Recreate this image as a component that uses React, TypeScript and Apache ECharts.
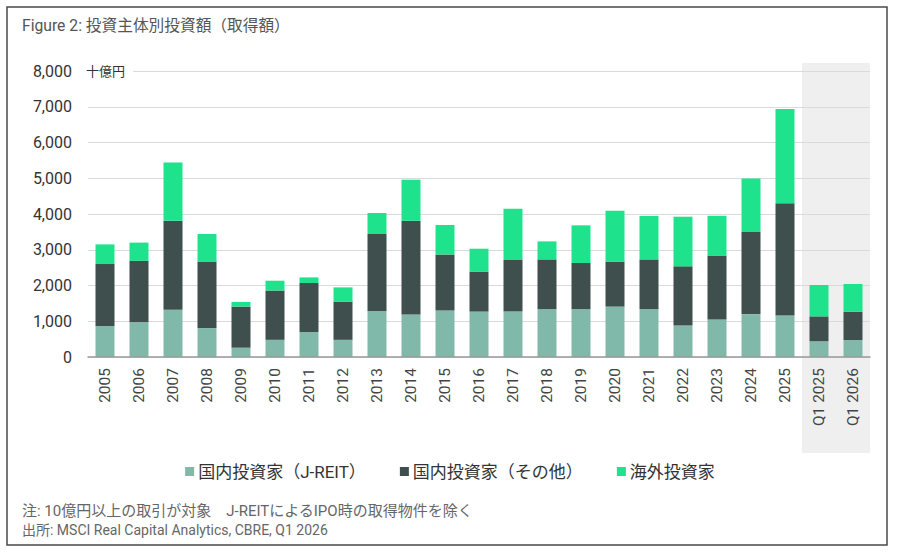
import React, { useEffect, useRef } from "react";
import * as echarts from "echarts";

const categories = [
  "2005", "2006", "2007", "2008", "2009", "2010", "2011", "2012", "2013", "2014",
  "2015", "2016", "2017", "2018", "2019", "2020", "2021", "2022", "2023", "2024",
  "2025", "Q1 2025", "Q1 2026",
];
const seriesNames = ["国内投資家（J-REIT）", "国内投資家（その他）", "海外投資家"];
const jreit = [870, 970, 1320, 810, 260, 480, 700, 480, 1290, 1190, 1300, 1270, 1270, 1340, 1340, 1410, 1340, 880, 1050, 1200, 1160, 440, 475];
const domesticOther = [1730, 1720, 2490, 1860, 1150, 1380, 1370, 1070, 2150, 2620, 1570, 1120, 1440, 1390, 1290, 1260, 1390, 1655, 1790, 2300, 3140, 696, 792];
const foreign = [550, 510, 1630, 770, 130, 274, 157, 397, 588, 1150, 822, 639, 1438, 504, 1053, 1422, 1217, 1389, 1110, 1496, 2637, 878, 775];
const yMin = 0;
const yMax = 8000;
const yStep = 1000;
const shadedFrom = "Q1 2025";
const shadedTo = "Q1 2026";
const titleText = "Figure 2: 投資主体別投資額（取得額）";
const unitText = "十億円";
const noteText = "注: 10億円以上の取引が対象　J-REITによるIPO時の取得物件を除く";
const sourceText = "出所: MSCI Real Capital Analytics, CBRE, Q1 2026";

const colors = ["#80b8a9", "#3e4f4d", "#1ee38c"];
const FONT = 'Roboto, "Noto Sans CJK JP", "Noto Sans", sans-serif';

export default function App() {
  const ref = useRef<HTMLDivElement>(null);
  useEffect(() => {
    if (!ref.current) return;
    const chart = echarts.init(ref.current, undefined, { renderer: "svg" });
    const data = [jreit, domesticOther, foreign];
    chart.setOption({
      animation: false,
      backgroundColor: "#ffffff",
      textStyle: { fontFamily: FONT },
      grid: { left: 88, right: 30, top: 71, bottom: 198, containLabel: false },
      legend: {
        top: 458,
        left: "center",
        icon: "rect",
        itemWidth: 9,
        itemHeight: 9,
        itemGap: 34,
        textStyle: { fontSize: 17, color: "#333", fontFamily: FONT, padding: [0, 0, 0, -1] },
        data: seriesNames,
      },
      xAxis: {
        type: "category",
        data: categories,
        axisLine: { lineStyle: { color: "#9a9a9a", width: 1.5 } },
        axisTick: { show: false },
        axisLabel: { rotate: 90, fontSize: 15.5, color: "#444", margin: 11, fontFamily: FONT },
        z: 3,
      },
      yAxis: {
        type: "value",
        min: yMin,
        max: yMax,
        interval: yStep,
        axisLine: { show: false },
        axisTick: { show: false },
        axisLabel: {
          fontSize: 16,
          color: "#333",
          margin: 16,
          fontFamily: FONT,
          formatter: (v: number) => v.toLocaleString("en-US"),
        },
        splitLine: { lineStyle: { color: "#dadada", width: 1 } },
      },
      series: seriesNames.map((name, i) => ({
        name,
        type: "bar",
        stack: "total",
        barWidth: 19,
        itemStyle: { color: colors[i] },
        data: data[i],
        z: 2,
      })),
      graphic: [
        {
          id: "frame",
          type: "rect",
          shape: { x: 7, y: 7, width: 880, height: 538 },
          style: { fill: "none", stroke: "#4a4a4a", lineWidth: 1.5 },
          z: 100,
        },
        {
          id: "title",
          type: "text",
          x: 22,
          y: 18,
          style: { text: titleText, fontSize: 15.7, fill: "#555", fontFamily: FONT },
        },
        {
          id: "note",
          type: "text",
          x: 22,
          y: 503,
          style: { text: noteText, fontSize: 15, fill: "#666", fontFamily: FONT },
        },
        {
          id: "source",
          type: "text",
          x: 22,
          y: 523,
          style: { text: sourceText, fontSize: 14, fill: "#666", fontFamily: FONT },
        },
      ],
    });

    const cFrom = chart.convertToPixel({ xAxisIndex: 0 }, shadedFrom) as number;
    const cTo = chart.convertToPixel({ xAxisIndex: 0 }, shadedTo) as number;
    const band = cTo - cFrom;
    const yTop = chart.convertToPixel({ yAxisIndex: 0 }, yMax) as number;
    const yBase = chart.convertToPixel({ yAxisIndex: 0 }, yMin) as number;
    chart.setOption({
      graphic: [
        {
          id: "shade",
          type: "rect",
          shape: { x: cFrom - band / 2, y: yTop - 8, width: band * 2, height: yBase - yTop + 8 + 96 },
          style: { fill: "#efefef" },
          z: -10,
          silent: true,
        },
        {
          id: "unit",
          type: "text",
          x: 84,
          y: yTop,
          style: {
            text: unitText,
            fontSize: 13,
            fill: "#333",
            fontFamily: FONT,
            verticalAlign: "middle",
            backgroundColor: "#ffffff",
            padding: [2, 8, 2, 2],
          },
          z: 50,
        },
      ],
    });
    return () => chart.dispose();
  }, []);
  return (
    <div style={{ position: "fixed", left: 0, top: 0, width: 900, height: 555, background: "#fff" }}>
      <div ref={ref} style={{ width: 900, height: 555 }} />
    </div>
  );
}
